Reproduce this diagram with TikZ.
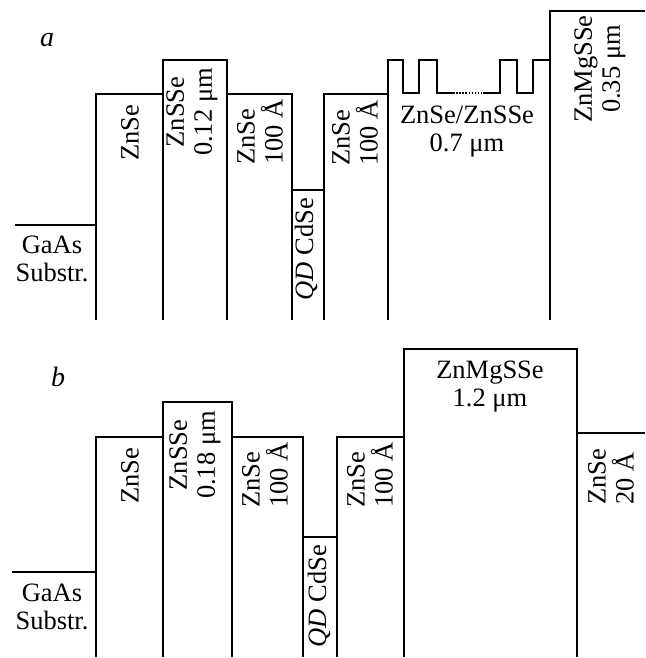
\documentclass[tikz,border=0pt]{standalone}
\usepackage{fontspec}
\setmainfont{Liberation Serif}
\begin{document}
\begin{tikzpicture}[x=1pt,y=-1pt,line width=1.7pt,
  lbl/.style={font=\fontsize{26.5}{28}\selectfont,inner sep=0pt,align=center},
  rlbl/.style={lbl,rotate=90},
  rlbll/.style={lbl,rotate=90,align=left},
  panel/.style={font=\fontsize{28}{30}\selectfont\itshape,inner sep=0pt},
  sl/.style={line width=1.7pt,dash pattern=on 1.5pt off 1.6pt}]
\useasboundingbox (0,0) rectangle (645,658);
% ---------- panel a ----------
\node[panel] (pa) at (47,40) {a};
\draw (15,225) -- (96,225) -- (96,94) -- (163,94) -- (163,60) -- (227,60) -- (227,94)
  -- (292,94) -- (292,190) -- (324,190) -- (324,94) -- (388,94) -- (388,60) -- (403,60)
  -- (403,93) -- (419,93) -- (419,60) -- (437,60) -- (437,93) -- (453,93);
\draw[sl] (453,93) -- (483,93);
\draw (483,93) -- (500,93) -- (500,60) -- (517,60) -- (517,93) -- (533,93) -- (533,60)
  -- (550,60) -- (550,11) -- (645,11);
\foreach \x/\t in {96/225,163/60,227/60,292/94,324/94,388/60,550/11}
  \draw (\x,\t) -- (\x,320);
\node[lbl] (a1) at (52,259) {GaAs\\Substr.};
\node[rlbl] (a2) at (130,133) {ZnSe};
\node[rlbl] (a3) at (192,112) {ZnSSe\\0.12 μm};
\node[rlbll] (a4) at (260,132) {ZnSe\\100 Å};
\node[rlbl] (a5) at (306,249) {\textit{QD} CdSe};
\node[rlbll] (a6) at (355,133) {ZnSe\\100 Å};
\node[lbl] (a7) at (467,132) {ZnSe/ZnSSe\\0.7 μm};
\node[rlbl] (a8) at (600,69) {ZnMgSSe\\0.35 μm};
% ---------- panel b ----------
\node[panel] (pb) at (58,377) {b};
\draw (12,572) -- (96,572) -- (96,437) -- (163,437) -- (163,402) -- (232,402) -- (232,437)
  -- (303,437) -- (303,537) -- (337,537) -- (337,437) -- (404,437) -- (404,349)
  -- (577,349) -- (577,433) -- (645,433);
\foreach \x/\t in {96/572,163/402,232/402,303/437,337/437,404/349,577/349}
  \draw (\x,\t) -- (\x,657);
\node[lbl] (b1) at (52,607) {GaAs\\Substr.};
\node[rlbl] (b2) at (130,476) {ZnSe};
\node[rlbl] (b3) at (195,455) {ZnSSe\\0.18 μm};
\node[rlbll] (b4) at (265,475) {ZnSe\\100 Å};
\node[rlbl] (b5) at (319,596) {\textit{QD} CdSe};
\node[rlbll] (b6) at (370,475) {ZnSe\\100 Å};
\node[lbl] (b7) at (490,387) {ZnMgSSe\\1.2 μm};
\node[rlbll] (b8) at (611,477) {ZnSe\\20 Å};
\end{tikzpicture}
\end{document}
